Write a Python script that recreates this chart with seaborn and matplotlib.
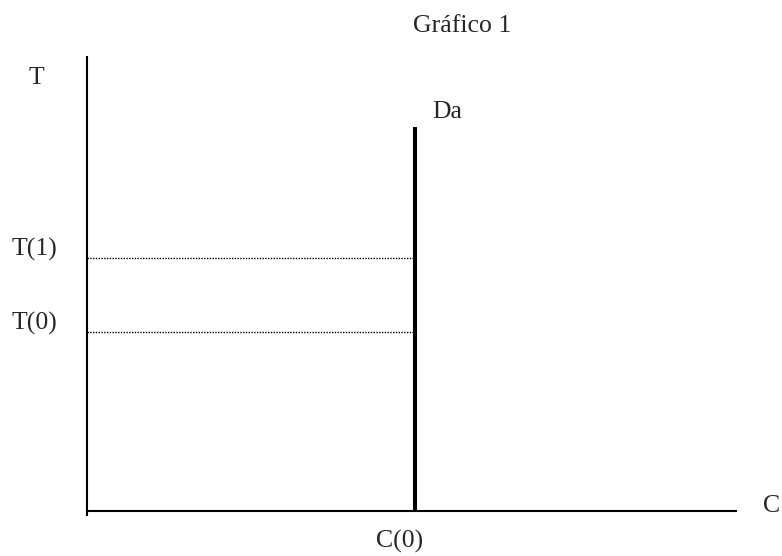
import matplotlib
matplotlib.use("Agg")
import matplotlib.pyplot as plt
import seaborn as sns
import pandas as pd

# ---- data ----
title = "Gráfico 1"
axis_label_t = "T"
axis_label_c = "C"
curve_label = "Da"
c_axis_max = 100
t_axis_max = 100
c0 = 50.5
c0_label = "C(0)"
da_top = 84.6
t_levels = [39.4, 55.7]
t_labels = ["T(0)", "T(1)"]

sns.set_theme(style="white")
plt.rcParams['font.family'] = ['Liberation Serif', 'DejaVu Serif']
FS = 18.5

fig = plt.figure(figsize=(7.82, 5.56), dpi=100)
fig.patch.set_facecolor("white")
ax = fig.add_axes([87 / 782, 45 / 556, 649 / 782, 454 / 556])
ax.set_facecolor("white")
ax.set_xlim(0, c_axis_max)
ax.set_ylim(0, t_axis_max)
ax.set_xticks([])
ax.set_yticks([])
for s in ["top", "right"]:
    ax.spines[s].set_visible(False)
for s in ["left", "bottom"]:
    ax.spines[s].set_color("black")
    ax.spines[s].set_linewidth(1.5)
ax.spines["left"].set_bounds(-0.9, t_axis_max)
ax.spines["bottom"].set_bounds(0, c_axis_max)

# vertical demand line Da
da_df = pd.DataFrame({"C": [c0, c0], "T": [0, da_top]})
sns.lineplot(data=da_df, x="C", y="T", estimator=None, sort=False,
             color="black", linewidth=2.9, ax=ax, solid_capstyle="butt")

# dotted guide lines
for t in t_levels:
    df = pd.DataFrame({"C": [0, c0], "T": [t, t]})
    sns.lineplot(data=df, x="C", y="T", estimator=None, sort=False,
                 color="black", linewidth=1.0, linestyle=(0, (1, 1)), ax=ax)

ax.set_xlabel("")
ax.set_ylabel("")

# labels
for t, lab in zip(t_levels, t_labels):
    ax.annotate(lab, xy=(0, t), xytext=(-30, 3), textcoords="offset pixels",
                ha="right", va="baseline", fontsize=FS, annotation_clip=False)

ax.annotate(axis_label_t, xy=(0, t_axis_max), xytext=(-58, -27),
            textcoords="offset pixels", ha="left", va="baseline",
            fontsize=FS, annotation_clip=False)
ax.annotate(axis_label_c, xy=(c_axis_max, 0), xytext=(27, -1),
            textcoords="offset pixels", ha="left", va="baseline",
            fontsize=FS, annotation_clip=False)
ax.annotate(curve_label, xy=(c0, da_top), xytext=(18, 9),
            textcoords="offset pixels", ha="left", va="baseline",
            fontsize=FS, annotation_clip=False)
ax.annotate(c0_label, xy=(c0, 0), xytext=(-15.5, -37),
            textcoords="offset pixels", ha="center", va="baseline",
            fontsize=FS, annotation_clip=False)

fig.text(462.5 / 782, 1 - 32 / 556, title, ha="center", va="baseline", fontsize=FS)

fig.savefig("out.png", dpi=100, facecolor="white")
